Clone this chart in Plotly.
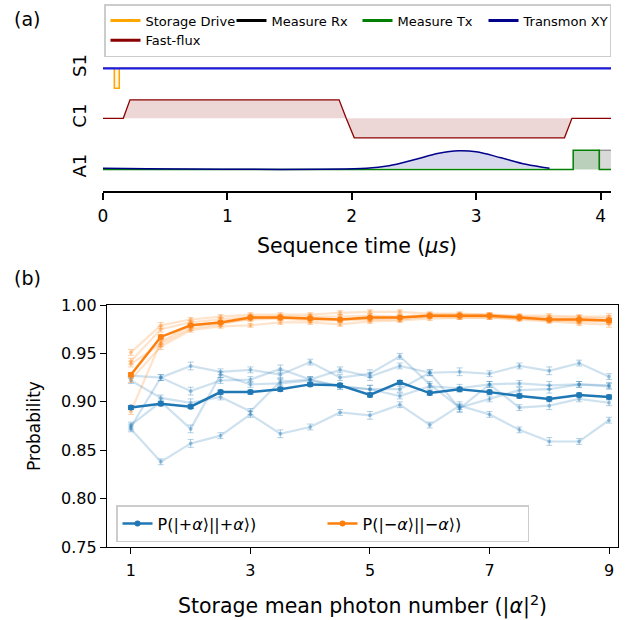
import plotly.graph_objects as go

# ---------------- panel (a): pulse sequence ----------------
seq_ticks = [0, 1, 2, 3, 4]
channel_labels = ["S1", "C1", "A1"]
channel_offsets = [2, 1, 0]

storage_t = [0, 0.091, 0.091, 0.131, 0.131, 4.084]
storage_amp = [0, 0, -0.40, -0.40, 0, 0]

s1_line_t = [0, 4.084]
s1_line_amp = [0, 0]

flux_t = [0, 0.163, 0.217, 1.898, 1.955, 2.02, 3.71, 3.77, 4.084]
flux_amp = [0, 0, 0.37, 0.37, 0, -0.39, -0.39, 0, 0]

xy_t = [0, 2.12, 2.3, 2.5, 2.7, 2.86, 3.0, 3.2, 3.4, 3.59]
xy_amp = [0, 0, 0.05, 0.17, 0.30, 0.35, 0.33, 0.21, 0.08, 0.0]

tx_t = [0, 3.78, 3.78, 3.99, 3.99, 4.084]
tx_amp = [-0.025, -0.025, 0.36, 0.36, -0.025, -0.025]

rx_t = [3.99, 3.99, 4.3, 4.3]
rx_amp = [-0.025, 0.36, 0.36, -0.025]

# ---------------- panel (b): probabilities ----------------
photon = [1, 1.5, 2, 2.5, 3, 3.5, 4, 4.5, 5, 5.5, 6, 6.5, 7, 7.5, 8, 8.5, 9]
photon_ticks = [1, 3, 5, 7, 9]
prob_ticks = [0.75, 0.80, 0.85, 0.90, 0.95, 1.00]

plus_mean = [0.894, 0.898, 0.895, 0.910, 0.910, 0.913, 0.918, 0.917, 0.907, 0.920, 0.909, 0.913, 0.910, 0.906, 0.903, 0.907, 0.905]
minus_mean = [0.928, 0.967, 0.979, 0.982, 0.987, 0.987, 0.986, 0.985, 0.987, 0.987, 0.989, 0.989, 0.989, 0.987, 0.985, 0.985, 0.984]
plus_mean_err = [0.002, 0.002, 0.002, 0.002, 0.002, 0.002, 0.002, 0.002, 0.002, 0.002, 0.002, 0.002, 0.002, 0.002, 0.002, 0.002, 0.002]
minus_mean_err = [0.002, 0.002, 0.001, 0.001, 0.001, 0.001, 0.001, 0.001, 0.001, 0.001, 0.001, 0.001, 0.001, 0.001, 0.001, 0.001, 0.002]

plus_run1 = [0.927, 0.925, 0.937, 0.931, 0.933, 0.928, 0.941, 0.925, 0.929, 0.947, 0.918, 0.894, 0.903, 0.912, 0.913, 0.918, 0.916]
plus_run2 = [0.874, 0.925, 0.911, 0.922, 0.923, 0.934, 0.923, 0.933, 0.926, 0.937, 0.930, 0.931, 0.929, 0.937, 0.932, 0.940, 0.926]
plus_run3 = [0.922, 0.904, 0.899, 0.905, 0.890, 0.921, 0.923, 0.916, 0.913, 0.906, 0.916, 0.914, 0.918, 0.919, 0.917, 0.918, 0.917]
plus_run4 = [0.872, 0.838, 0.857, 0.865, 0.887, 0.867, 0.874, 0.889, 0.886, 0.897, 0.876, 0.896, 0.887, 0.871, 0.859, 0.859, 0.881]
plus_run5 = [0.876, 0.900, 0.872, 0.928, 0.918, 0.919, 0.922, 0.916, 0.913, 0.913, 0.930, 0.893, 0.918, 0.894, 0.896, 0.903, 0.899]
plus_run_err = [0.003, 0.003, 0.004, 0.003, 0.003, 0.004, 0.003, 0.003, 0.004, 0.003, 0.003, 0.004, 0.003, 0.003, 0.004, 0.003, 0.003]

minus_run1 = [0.951, 0.979, 0.985, 0.988, 0.990, 0.990, 0.990, 0.992, 0.993, 0.993, 0.991, 0.991, 0.990, 0.989, 0.989, 0.988, 0.988]
minus_run2 = [0.942, 0.975, 0.982, 0.985, 0.988, 0.988, 0.988, 0.988, 0.989, 0.988, 0.990, 0.990, 0.990, 0.988, 0.987, 0.987, 0.986]
minus_run3 = [0.939, 0.960, 0.976, 0.980, 0.986, 0.987, 0.986, 0.985, 0.986, 0.987, 0.989, 0.989, 0.989, 0.987, 0.985, 0.984, 0.984]
minus_run4 = [0.923, 0.957, 0.974, 0.978, 0.979, 0.982, 0.982, 0.980, 0.983, 0.984, 0.986, 0.987, 0.987, 0.985, 0.983, 0.981, 0.980]
minus_run5 = [0.890, 0.962, 0.979, 0.982, 0.985, 0.986, 0.984, 0.984, 0.985, 0.985, 0.988, 0.987, 0.987, 0.986, 0.984, 0.983, 0.983]
minus_run_err = [0.003, 0.003, 0.002, 0.002, 0.002, 0.002, 0.002, 0.002, 0.002, 0.002, 0.002, 0.002, 0.002, 0.002, 0.002, 0.002, 0.003]

FONT = "DejaVu Sans"
BLUE = "#1f77b4"
ORANGE = "#ff7f0e"

fig = go.Figure()

def shift(vals, off):
    return [v + off for v in vals]

s1_off, c1_off, a1_off = channel_offsets

# ---- legend handles (panel a) ----
for rank, (nm, col) in enumerate([("Storage Drive", "#FFA500"), ("Measure Rx", "black"),
                                  ("Measure Tx", "green"), ("Transmon XY", "#00008B"),
                                  ("Fast-flux", "#8B0000")]):
    fig.add_trace(go.Scatter(x=[None], y=[None], mode="lines", name=nm,
                             line=dict(color=col, width=3), legend="legend",
                             legendrank=rank + 1, xaxis="x", yaxis="y"))

# ---- panel (a) traces ----
fig.add_trace(go.Scatter(x=storage_t, y=shift(storage_amp, s1_off), mode="lines",
                         fill="toself", fillcolor="rgba(255,165,0,0.12)",
                         line=dict(color="rgba(0,0,0,0)", width=0), hoverinfo="skip",
                         showlegend=False, xaxis="x", yaxis="y"))
fig.add_trace(go.Scatter(x=storage_t, y=shift(storage_amp, s1_off), mode="lines",
                         line=dict(color="#FFA500", width=1.5), showlegend=False,
                         hoverinfo="skip", xaxis="x", yaxis="y"))
fig.add_trace(go.Scatter(x=rx_t, y=shift(rx_amp, a1_off), mode="lines", fill="toself",
                         fillcolor="rgba(0,0,0,0.15)", line=dict(color="rgba(0,0,0,0.35)", width=1.5),
                         showlegend=False, hoverinfo="skip", xaxis="x", yaxis="y"))
fig.add_trace(go.Scatter(x=tx_t, y=shift(tx_amp, a1_off), mode="lines", fill="toself",
                         fillcolor="rgba(60,120,60,0.35)", line=dict(color="rgba(0,0,0,0)", width=0),
                         showlegend=False, hoverinfo="skip", xaxis="x", yaxis="y"))
fig.add_trace(go.Scatter(x=flux_t + flux_t[::-1],
                         y=shift(flux_amp, c1_off) + [c1_off] * len(flux_t),
                         mode="lines", fill="toself", fillcolor="rgba(139,0,0,0.16)",
                         line=dict(color="rgba(0,0,0,0)", width=0), showlegend=False,
                         hoverinfo="skip", xaxis="x", yaxis="y"))
fig.add_trace(go.Scatter(x=xy_t + xy_t[::-1],
                         y=shift(xy_amp, a1_off) + [a1_off] * len(xy_t),
                         mode="lines", fill="toself", fillcolor="rgba(0,0,139,0.15)",
                         line=dict(color="rgba(0,0,0,0)", width=0, shape="spline"), showlegend=False,
                         hoverinfo="skip", xaxis="x", yaxis="y"))
fig.add_trace(go.Scatter(x=tx_t, y=shift(tx_amp, a1_off), mode="lines",
                         line=dict(color="green", width=1.5), showlegend=False,
                         hoverinfo="skip", xaxis="x", yaxis="y"))
fig.add_trace(go.Scatter(x=xy_t, y=shift(xy_amp, a1_off), mode="lines",
                         line=dict(color="#00008B", width=1.5, shape="spline"), showlegend=False,
                         hoverinfo="skip", xaxis="x", yaxis="y"))
fig.add_trace(go.Scatter(x=s1_line_t, y=shift(s1_line_amp, s1_off), mode="lines",
                         line=dict(color="#1a1ae0", width=2.2), showlegend=False,
                         hoverinfo="skip", xaxis="x", yaxis="y"))
fig.add_trace(go.Scatter(x=flux_t, y=shift(flux_amp, c1_off), mode="lines",
                         line=dict(color="#8B0000", width=1.3), showlegend=False,
                         hoverinfo="skip", xaxis="x", yaxis="y"))

# ---- panel (b) traces ----
def run_trace(y, err, rgb):
    return go.Scatter(
        x=photon, y=y, mode="lines+markers",
        line=dict(color=f"rgba({rgb},0.22)", width=2.2),
        marker=dict(color=f"rgba({rgb},0.35)", size=4),
        error_y=dict(type="data", array=err, visible=True, color=f"rgba({rgb},0.35)",
                     thickness=1, width=3),
        showlegend=False, hoverinfo="skip", xaxis="x2", yaxis="y2")

for run in [plus_run1, plus_run2, plus_run3, plus_run4, plus_run5]:
    fig.add_trace(run_trace(run, plus_run_err, "31,119,180"))
for run in [minus_run1, minus_run2, minus_run3, minus_run4, minus_run5]:
    fig.add_trace(run_trace(run, minus_run_err, "255,127,14"))

fig.add_trace(go.Scatter(
    x=photon, y=plus_mean, mode="lines+markers",
    name="P(|+<i>α</i>⟩||+<i>α</i>⟩)",
    line=dict(color=BLUE, width=2.5), marker=dict(color=BLUE, size=6),
    error_y=dict(type="data", array=plus_mean_err, visible=True, color=BLUE, thickness=1, width=3),
    legend="legend2", xaxis="x2", yaxis="y2"))
fig.add_trace(go.Scatter(
    x=photon, y=minus_mean, mode="lines+markers",
    name="P(|−<i>α</i>⟩||−<i>α</i>⟩)",
    line=dict(color=ORANGE, width=2.5), marker=dict(color=ORANGE, size=6),
    error_y=dict(type="data", array=minus_mean_err, visible=True, color=ORANGE, thickness=1, width=3),
    legend="legend2", xaxis="x2", yaxis="y2"))

# the page is laid out 619 px wide (viewport minus scrollbar), 620 px tall
W, H = 619, 620

fig.update_layout(
    width=W, height=H, autosize=False,
    margin=dict(l=0, r=0, t=0, b=0),
    paper_bgcolor="white", plot_bgcolor="white",
    font=dict(family=FONT, color="black", size=16),
    xaxis=dict(domain=[103 / W, 611 / W], range=[0, 4.084], tickvals=seq_ticks,
               showline=True, linecolor="black", linewidth=2, ticks="outside", ticklen=7,
               tickwidth=1.5, tickcolor="black", showgrid=False, zeroline=False,
               tickfont=dict(size=17), ticklabelstandoff=2, automargin=False, anchor="y",
               title=dict(text="Sequence time (<i>μs</i>)", font=dict(size=20.5), standoff=13)),
    yaxis=dict(domain=[1 - 191 / H, 1 - 55 / H], range=[-0.454, 2.266],
               tickvals=channel_offsets, ticktext=channel_labels, tickangle=-90,
               ticks="", showline=False, showgrid=False, zeroline=False,
               tickfont=dict(size=18), ticklabelstandoff=12, automargin=False, anchor="x"),
    xaxis2=dict(domain=[107 / W, 618 / W], range=[0.6, 9.15], tickvals=photon_ticks,
                showline=True, mirror=True, linecolor="black", linewidth=1.3, ticks="outside",
                ticklen=6, tickwidth=1.2, tickcolor="black", showgrid=False, zeroline=False,
                tickfont=dict(size=16), ticklabelstandoff=3, automargin=False, anchor="y2",
                title=dict(text="Storage mean photon number (|<i>α</i>|<sup>2</sup>)",
                           font=dict(size=20.5), standoff=19)),
    yaxis2=dict(domain=[1 - 547 / H, 1 - 305 / H], range=[0.75, 1.0], tickvals=prob_ticks,
                tickformat=".2f", showline=True, mirror=True, linecolor="black", linewidth=1.3,
                ticks="outside", ticklen=6, tickwidth=1.2, tickcolor="black", showgrid=False,
                zeroline=False, tickfont=dict(size=16), automargin=False, anchor="x2",
                title=dict(text="Probability", font=dict(size=17), standoff=16)),
    legend=dict(x=104 / W, y=1 - 4 / H, xanchor="left", yanchor="top", orientation="h",
                bgcolor="rgba(255,255,255,0.9)", bordercolor="#cccccc", borderwidth=1.5,
                font=dict(size=13), itemwidth=30, entrywidth=81, entrywidthmode="pixels",
                tracegroupgap=0, traceorder="normal"),
    legend2=dict(x=116 / W, y=1 - 505 / H, xanchor="left", yanchor="top", orientation="h",
                 bgcolor="rgba(255,255,255,0.9)", bordercolor="#cccccc", borderwidth=1.5,
                 font=dict(size=16), itemwidth=30, entrywidth=160, entrywidthmode="pixels"),
    annotations=[
        dict(text="(a)", x=12 / W, y=1 - 19 / H, xref="paper", yref="paper",
             xanchor="left", yanchor="middle", showarrow=False, font=dict(size=19)),
        dict(text="(b)", x=12 / W, y=1 - 278 / H, xref="paper", yref="paper",
             xanchor="left", yanchor="middle", showarrow=False, font=dict(size=19)),
    ],
)

fig.write_html(
    "out.html",
    config={"displayModeBar": False, "responsive": False},
    post_script="document.body.style.margin='0px';document.body.style.overflow='hidden';"
                "document.documentElement.style.overflow='hidden';",
)
